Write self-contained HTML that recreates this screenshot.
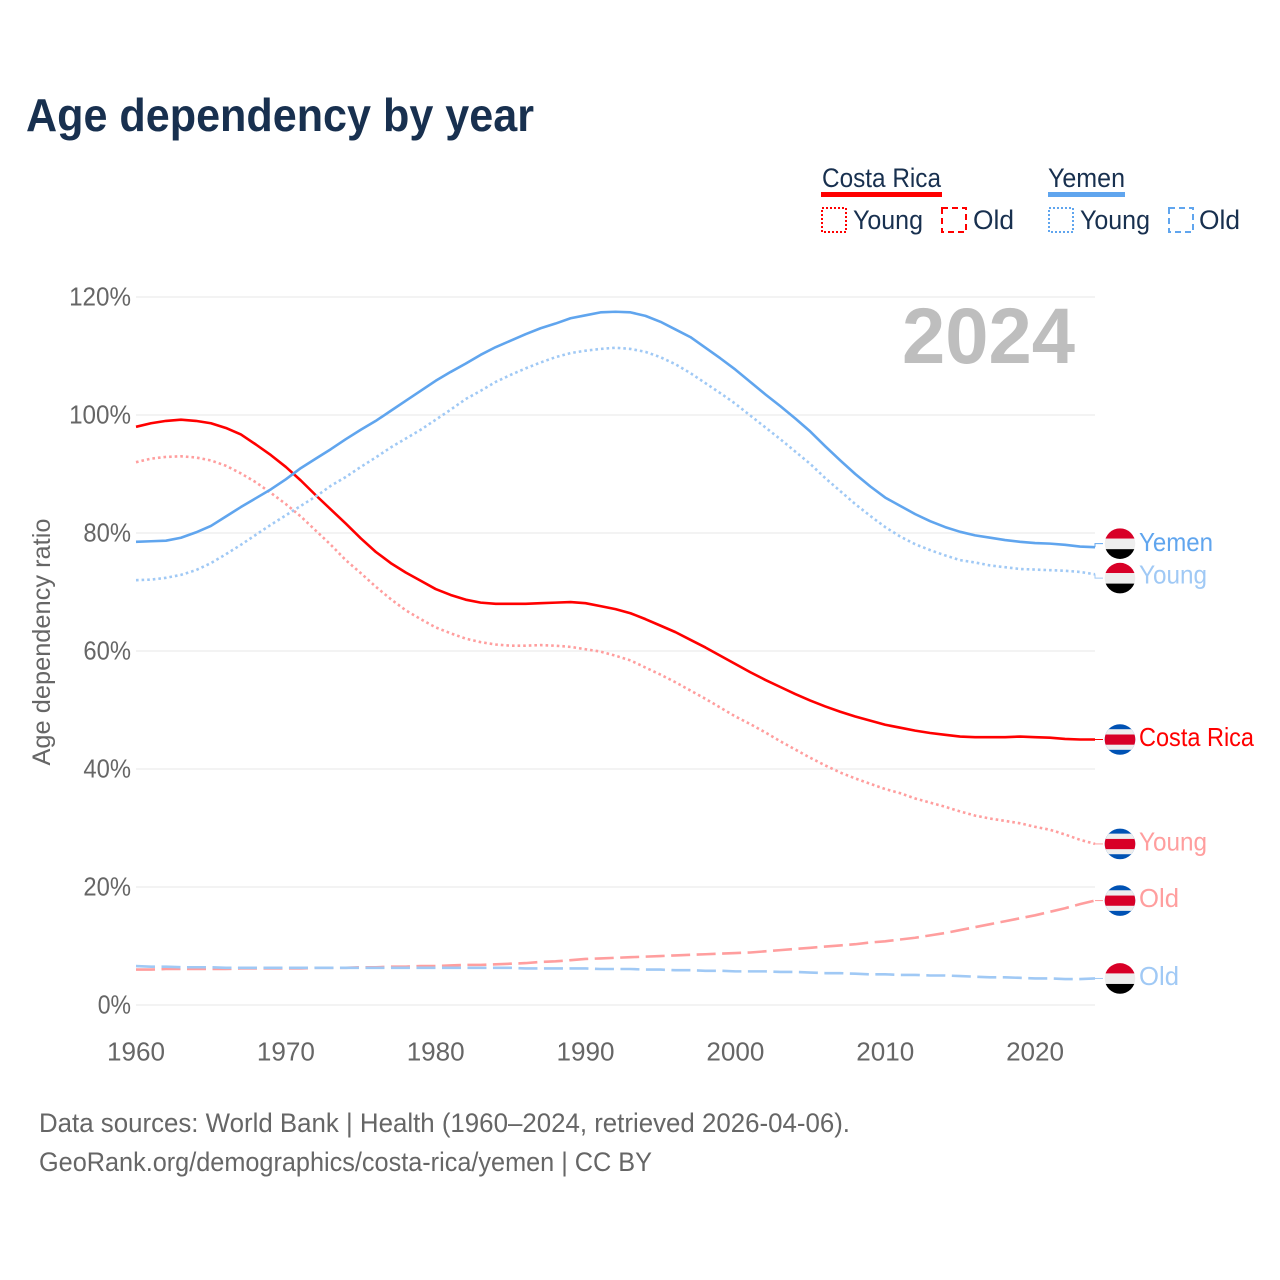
<!DOCTYPE html>
<html lang="en">
<head>
<meta charset="utf-8">
<title>Age dependency by year</title>
<style>
  html, body { margin: 0; padding: 0; background: #fff; }
  svg { display: block; }
  text { font-family: "Liberation Sans", sans-serif; }
</style>
</head>
<body>
<svg id="chart" xmlns="http://www.w3.org/2000/svg" width="1280" height="1280" viewBox="0 0 1280 1280">
  <rect x="0" y="0" width="1280" height="1280" fill="#ffffff"/>
  <text x="26" y="131" font-size="46" font-weight="700" fill="#18304f" textLength="508" lengthAdjust="spacingAndGlyphs">Age dependency by year</text>

  <g fill="#18304f" font-size="27">
    <text x="822" y="187" textLength="119" lengthAdjust="spacingAndGlyphs">Costa Rica</text>
    <rect x="821" y="192" width="121" height="5" fill="#ff0000"/>
    <rect x="822" y="208" width="24" height="24" fill="none" stroke="#ff0000" stroke-width="2" stroke-dasharray="2,2"/>
    <text x="853" y="229" textLength="70" lengthAdjust="spacingAndGlyphs">Young</text>
    <rect x="942" y="208" width="24" height="24" fill="none" stroke="#ff0000" stroke-width="2" stroke-dasharray="6,4"/>
    <text x="973" y="229" textLength="41" lengthAdjust="spacingAndGlyphs">Old</text>
    <text x="1048" y="187" textLength="77" lengthAdjust="spacingAndGlyphs">Yemen</text>
    <rect x="1048" y="192" width="77" height="5" fill="#60a5ee"/>
    <rect x="1049" y="208" width="24" height="24" fill="none" stroke="#60a5ee" stroke-width="2" stroke-dasharray="2,2"/>
    <text x="1080" y="229" textLength="70" lengthAdjust="spacingAndGlyphs">Young</text>
    <rect x="1169" y="208" width="24" height="24" fill="none" stroke="#60a5ee" stroke-width="2" stroke-dasharray="6,4"/>
    <text x="1199" y="229" textLength="41" lengthAdjust="spacingAndGlyphs">Old</text>
  </g>

  <g id="grid"></g>
  <g id="y-axis"></g>
  <g id="x-axis"></g>

  <text transform="translate(50,642) rotate(-90)" text-anchor="middle" font-size="25" fill="#666666" textLength="247" lengthAdjust="spacingAndGlyphs">Age dependency ratio</text>
  <text x="902" y="363" font-size="79" font-weight="700" fill="#bebebe" textLength="173" lengthAdjust="spacingAndGlyphs">2024</text>

  <g id="series"></g>
  <g id="end-labels"></g>

  <g font-size="27" fill="#666666">
    <text x="39" y="1132" textLength="811" lengthAdjust="spacingAndGlyphs">Data sources: World Bank | Health (1960–2024, retrieved 2026-04-06).</text>
    <text x="39" y="1171" textLength="613" lengthAdjust="spacingAndGlyphs">GeoRank.org/demographics/costa-rica/yemen | CC BY</text>
  </g>
</svg>

<script>
const years = [
  1960,1961,1962,1963,1964,1965,1966,1967,1968,1969,
  1970,1971,1972,1973,1974,1975,1976,1977,1978,1979,
  1980,1981,1982,1983,1984,1985,1986,1987,1988,1989,
  1990,1991,1992,1993,1994,1995,1996,1997,1998,1999,
  2000,2001,2002,2003,2004,2005,2006,2007,2008,2009,
  2010,2011,2012,2013,2014,2015,2016,2017,2018,2019,
  2020,2021,2022,2023,2024
];
const costaRicaTotal = [
  98.0,98.6,99.0,99.2,99.0,98.6,97.8,96.7,95.0,93.2,
  91.2,88.9,86.4,84.0,81.6,79.1,76.8,74.9,73.3,71.9,
  70.5,69.5,68.7,68.2,68.0,68.0,68.0,68.1,68.2,68.3,
  68.1,67.6,67.1,66.4,65.4,64.3,63.2,61.9,60.6,59.2,
  57.8,56.4,55.1,53.9,52.7,51.6,50.6,49.7,48.9,48.2,
  47.5,47.0,46.5,46.1,45.8,45.5,45.4,45.4,45.4,45.5,
  45.4,45.3,45.1,45.0,45.0
];
const costaRicaYoung = [
  92.0,92.6,92.9,93.0,92.8,92.3,91.4,90.1,88.6,86.8,
  84.9,82.8,80.4,78.0,75.4,73.2,70.9,68.8,66.9,65.4,
  64.0,63.0,62.1,61.5,61.1,60.9,60.9,61.0,60.9,60.7,
  60.3,59.9,59.2,58.4,57.2,56.0,54.7,53.3,51.9,50.4,
  48.9,47.6,46.2,44.7,43.3,41.9,40.6,39.4,38.4,37.5,
  36.6,35.9,35.0,34.3,33.6,32.8,32.1,31.6,31.2,30.8,
  30.2,29.7,28.9,28.0,27.3
];
const costaRicaOld = [
  6.0,6.0,6.1,6.1,6.1,6.1,6.1,6.2,6.2,6.2,
  6.2,6.2,6.3,6.3,6.3,6.4,6.4,6.5,6.5,6.6,
  6.6,6.7,6.8,6.8,6.9,7.0,7.1,7.3,7.4,7.6,
  7.8,7.9,8.0,8.1,8.2,8.3,8.4,8.5,8.6,8.7,
  8.8,8.9,9.1,9.3,9.5,9.7,9.9,10.1,10.3,10.6,
  10.8,11.1,11.4,11.8,12.2,12.7,13.2,13.7,14.2,14.7,
  15.2,15.8,16.4,17.1,17.7
];
const yemenTotal = [
  78.5,78.6,78.7,79.2,80.1,81.2,82.8,84.4,85.9,87.4,
  89.1,91.0,92.6,94.2,95.9,97.5,99.0,100.7,102.4,104.1,
  105.8,107.3,108.7,110.2,111.5,112.6,113.7,114.7,115.5,116.4,
  116.9,117.4,117.5,117.4,116.8,115.8,114.5,113.2,111.4,109.6,
  107.7,105.6,103.5,101.5,99.4,97.2,94.7,92.3,90.0,87.9,
  86.0,84.6,83.2,82.0,81.0,80.2,79.6,79.2,78.8,78.5,
  78.3,78.2,78.0,77.7,77.6
];
const yemenYoung = [
  72.0,72.1,72.4,72.9,73.7,74.9,76.4,78.0,79.7,81.4,
  83.0,84.6,86.2,88.0,89.5,91.2,92.8,94.5,96.0,97.5,
  99.2,100.9,102.7,104.1,105.6,106.8,107.9,108.9,109.8,110.5,
  110.9,111.2,111.4,111.2,110.7,109.8,108.6,107.1,105.4,103.7,
  101.9,99.9,97.9,95.9,93.8,91.7,89.3,87.1,84.9,82.9,
  81.0,79.4,78.1,77.1,76.2,75.4,75.0,74.5,74.2,73.9,
  73.8,73.7,73.6,73.4,73.0
];
const yemenOld = [
  6.6,6.5,6.5,6.4,6.4,6.4,6.3,6.3,6.3,6.3,
  6.3,6.3,6.3,6.3,6.3,6.3,6.3,6.3,6.3,6.3,
  6.3,6.3,6.3,6.3,6.3,6.3,6.2,6.2,6.2,6.2,
  6.2,6.1,6.1,6.1,6.0,6.0,5.9,5.9,5.8,5.8,
  5.7,5.7,5.7,5.6,5.6,5.5,5.4,5.4,5.3,5.2,
  5.2,5.1,5.1,5.0,5.0,4.9,4.8,4.7,4.7,4.6,
  4.5,4.5,4.4,4.4,4.5
];
const yTickValues = [0,20,40,60,80,100,120];
const xTickValues = [1960,1970,1980,1990,2000,2010,2020];

const SVGNS = 'http://www.w3.org/2000/svg';
const xScale = function (year) { return 136 + (year - 1960) * (959 / 64); };
const yScale = function (pct) { return 1005 - pct * 5.9; };

function make(tag, attrs, parent) {
  const node = document.createElementNS(SVGNS, tag);
  Object.keys(attrs).forEach(function (k) { node.setAttribute(k, attrs[k]); });
  parent.appendChild(node);
  return node;
}

const gridGroup = document.getElementById('grid');
const yAxisGroup = document.getElementById('y-axis');
const xAxisGroup = document.getElementById('x-axis');
const seriesGroup = document.getElementById('series');
const labelsGroup = document.getElementById('end-labels');
const defs = make('defs', {}, document.getElementById('chart'));

yTickValues.forEach(function (v) {
  const line = make('line', { x1: 136, x2: 1095, y1: yScale(v), y2: yScale(v), stroke: '#ececec', 'stroke-width': 1.2 }, gridGroup);
  
  
  const text = v + '%';
  const label = make('text', { x: 131, y: yScale(v) + 8.5, 'text-anchor': 'end', 'font-size': 25.5, fill: '#666666', textLength: (text.length - 1) * 14.3 + 19, lengthAdjust: 'spacingAndGlyphs' }, yAxisGroup);
  
  
  label.textContent = text;
});

xTickValues.forEach(function (v) {
  const label = make('text', { x: xScale(v), y: 1060.5, 'text-anchor': 'middle', 'font-size': 25.5, fill: '#666666', textLength: 58, lengthAdjust: 'spacingAndGlyphs' }, xAxisGroup);
  
  
  label.textContent = v;
});

function drawSeries(key, values, color, width, dash) {
  const pts = values.map(function (v, i) { return xScale(years[i]).toFixed(2) + ',' + yScale(v).toFixed(2); }).join(' ');
  const attrs = { points: pts, fill: 'none', stroke: color, 'stroke-width': width, 'stroke-linejoin': 'round' };
  if (dash) attrs['stroke-dasharray'] = dash;
  const line = make('polyline', attrs, seriesGroup);
  
  
}

function drawConnector(key, values, color, labelY) {
  const endX = xScale(years[years.length - 1]);
  const endY = yScale(values[values.length - 1]);
  const pts = endX + ',' + endY + ' ' + endX + ',' + labelY + ' ' + (endX + 8) + ',' + labelY;
  const link = make('polyline', { points: pts, fill: 'none', stroke: color, 'stroke-width': 1 }, labelsGroup);
  
  
}

function drawFlag(key, country, cy) {
  const clip = make('clipPath', { id: 'clip-' + key }, defs);
  make('circle', { cx: 1120, cy: cy, r: 15.3 }, clip);
  const g = make('g', { 'clip-path': 'url(#clip-' + key + ')' }, labelsGroup);
  
  
  const top = cy - 15.5;
  if (country === 'yemen') {
    make('rect', { x: 1104, y: top, width: 32, height: 10.5, fill: '#d80027' }, g);
    make('rect', { x: 1104, y: top + 10.5, width: 32, height: 10.5, fill: '#eeeeee' }, g);
    make('rect', { x: 1104, y: top + 21, width: 32, height: 10.5, fill: '#000000' }, g);
  } else {
    make('rect', { x: 1104, y: top, width: 32, height: 31, fill: '#0052b4' }, g);
    make('rect', { x: 1104, y: top + 5.2, width: 32, height: 20.6, fill: '#eeeeee' }, g);
    make('rect', { x: 1104, y: top + 10.5, width: 32, height: 10.2, fill: '#d80027' }, g);
  }
}

function drawEndLabel(key, text, baseline, color, length) {
  const label = make('text', { x: 1139, y: baseline, 'font-size': 26, fill: color, textLength: length, lengthAdjust: 'spacingAndGlyphs' }, labelsGroup);
  
  
  label.textContent = text;
}

const RED = '#ff0000';
const BLUE = '#60a5ee';
const PINK = '#ff9e9e';
const PALE_BLUE = '#a0c9f5';
const DOTTED = '2.6,3';
const DASHED = '19,6.5';

drawSeries('costa-rica-young', costaRicaYoung, PINK, 2.6, DOTTED);
drawSeries('costa-rica-old', costaRicaOld, PINK, 2.6, DASHED);
drawSeries('costa-rica-total', costaRicaTotal, RED, 2.6, null);
drawSeries('yemen-young', yemenYoung, PALE_BLUE, 2.6, DOTTED);
drawSeries('yemen-old', yemenOld, PALE_BLUE, 2.6, DASHED);
drawSeries('yemen-total', yemenTotal, BLUE, 2.6, null);

const yemenTotalY = yScale(yemenTotal[yemenTotal.length - 1]) - 3.5;
const yemenYoungY = yScale(yemenYoung[yemenYoung.length - 1]) + 3.8;
const crTotalY = yScale(costaRicaTotal[costaRicaTotal.length - 1]);
const crYoungY = yScale(costaRicaYoung[costaRicaYoung.length - 1]);
const crOldY = yScale(costaRicaOld[costaRicaOld.length - 1]);
const yemenOldY = yScale(yemenOld[yemenOld.length - 1]);

drawConnector('costa-rica-young', costaRicaYoung, PINK, crYoungY);
drawConnector('costa-rica-old', costaRicaOld, PINK, crOldY);
drawConnector('costa-rica-total', costaRicaTotal, RED, crTotalY);
drawConnector('yemen-young', yemenYoung, PALE_BLUE, yemenYoungY);
drawConnector('yemen-old', yemenOld, PALE_BLUE, yemenOldY);
drawConnector('yemen-total', yemenTotal, BLUE, yemenTotalY);

drawFlag('costa-rica-young', 'costa-rica', crYoungY);
drawFlag('costa-rica-old', 'costa-rica', crOldY);
drawFlag('costa-rica-total', 'costa-rica', crTotalY);
drawFlag('yemen-young', 'yemen', yemenYoungY);
drawFlag('yemen-old', 'yemen', yemenOldY);
drawFlag('yemen-total', 'yemen', yemenTotalY);

drawEndLabel('costa-rica-total', 'Costa Rica', crTotalY + 6.5, RED, 115);
drawEndLabel('costa-rica-young', 'Young', crYoungY + 6.5, PINK, 68);
drawEndLabel('costa-rica-old', 'Old', crOldY + 6.5, PINK, 40);
drawEndLabel('yemen-total', 'Yemen', yemenTotalY + 7.5, BLUE, 74);
drawEndLabel('yemen-young', 'Young', yemenYoungY + 5.5, PALE_BLUE, 68);
drawEndLabel('yemen-old', 'Old', yemenOldY + 6.5, PALE_BLUE, 40);
</script>
</body>
</html>
